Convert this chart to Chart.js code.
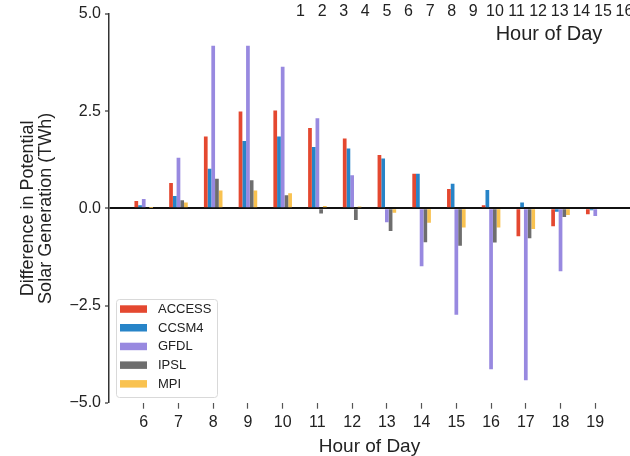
<!DOCTYPE html>
<html>
<head>
<meta charset="utf-8">
<script src="https://cdn.jsdelivr.net/npm/chart.js@4.4.0/dist/chart.umd.min.js"></script>
<style>
  html, body { margin: 0; padding: 0; background: #fff; }
  #wrap { width: 630px; height: 456px; }
</style>
</head>
<body>
<div id="wrap"><canvas id="solarChart"></canvas></div>
<script>
// Hour-of-day categories and model differences (TWh)
const hours = [6, 7, 8, 9, 10, 11, 12, 13, 14, 15, 16, 17, 18, 19];
const access = [0.19, 0.65, 1.85, 2.49, 2.52, 2.07, 1.80, 1.37, 0.89, 0.50, 0.08, -0.72, -0.46, -0.15];
const ccsm4 = [0.08, 0.32, 1.02, 1.73, 1.85, 1.58, 1.54, 1.28, 0.89, 0.63, 0.47, 0.15, -0.09, -0.05];
const gfdl = [0.24, 1.30, 4.18, 4.18, 3.64, 2.32, 0.85, -0.36, -1.49, -2.74, -4.14, -4.42, -1.62, -0.20];
const ipsl = [0.03, 0.21, 0.76, 0.72, 0.34, -0.13, -0.30, -0.58, -0.87, -0.96, -0.88, -0.77, -0.22, 0];
const mpi = [0.01, 0.15, 0.46, 0.46, 0.39, 0.06, 0.05, -0.11, -0.37, -0.49, -0.49, -0.53, -0.17, 0];
const yTicks = [-5, -2.5, 0, 2.5, 5];
// leftover tick labels of the panel above
const topHours = [1, 2, 3, 4, 5, 6, 7, 8, 9, 10, 11, 12, 13, 14, 15, 16];

const FONT = "'Liberation Sans', Arial, Helvetica, sans-serif";
const INK = "#222";

// Legend box + the stray text at the top
const overlayText = {
  id: "overlayText",
  afterDraw(chart) {
    const c = chart.ctx;
    c.save();

    // top strip from the neighbouring panel
    c.fillStyle = INK;
    c.font = `16px ${FONT}`;
    c.textAlign = "center";
    c.textBaseline = "middle";
    topHours.forEach((h, i) => c.fillText(String(h), 300.5 + i * 21.6, 12));
    c.font = `20px ${FONT}`;
    c.fillText("Hour of Day", 549, 34);

    // legend
    const x0 = 116, y0 = 299, w = 101, h = 98;
    c.fillStyle = "rgba(255,255,255,0.85)";
    c.strokeStyle = "#d9d9d9";
    c.lineWidth = 1;
    c.beginPath();
    c.roundRect(x0 + 0.5, y0 + 0.5, w, h, 3);
    c.fill();
    c.stroke();
    c.font = `13px ${FONT}`;
    c.textAlign = "left";
    chart.data.datasets.forEach((ds, i) => {
      const yc = y0 + 10 + i * 18.7;
      c.fillStyle = ds.backgroundColor;
      c.fillRect(x0 + 4, yc - 3.7, 27, 7.5);
      c.fillStyle = INK;
      c.fillText(ds.label, x0 + 42, yc + 0.5);
    });
    c.restore();
  },
};

const ctx = document.getElementById("solarChart").getContext("2d");
const chart = new Chart(ctx, {
  type: "bar",
  data: {
    labels: hours,
    datasets: [
      { label: "ACCESS", data: access, backgroundColor: "#e44830" },
      { label: "CCSM4", data: ccsm4, backgroundColor: "#2784c8" },
      { label: "GFDL", data: gfdl, backgroundColor: "#9889e0" },
      { label: "IPSL", data: ipsl, backgroundColor: "#6e6e6e" },
      { label: "MPI", data: mpi, backgroundColor: "#f9c250" },
    ],
  },
  options: {
    responsive: true,
    maintainAspectRatio: false,
    animation: false,
    layout: { padding: { top: 14, right: 0, bottom: 0, left: 0 } },
    datasets: {
      bar: { barPercentage: 1, categoryPercentage: 0.535 },
    },
    plugins: {
      legend: { display: false },
      tooltip: { enabled: false },
    },
    scales: {
      x: {
        type: "linear",
        min: 5,
        max: 20,
        offset: false,
        afterBuildTicks: (axis) => {
          axis.ticks = hours.map((h) => ({ value: h }));
        },
        afterFit: (axis) => {
          axis.height = 53.3;
        },
        border: { display: false },
        grid: {
          offset: false,
          drawOnChartArea: false,
          drawTicks: true,
          tickLength: 6,
          tickColor: "#555",
          tickWidth: 1.2,
        },
        ticks: {
          font: { size: 16, family: FONT },
          color: INK,
          padding: 4,
          maxRotation: 0,
          autoSkip: false,
          callback: (v) => String(v),
        },
        title: {
          display: true,
          text: "Hour of Day",
          color: INK,
          font: { size: 19, family: FONT, lineHeight: 1 },
          padding: { top: 0, bottom: 0 },
        },
      },
      y: {
        min: -5,
        max: 5,
        afterBuildTicks: (axis) => {
          axis.ticks = yTicks.map((v) => ({ value: v }));
        },
        afterFit: (axis) => {
          axis.width = 109;
        },
        border: { display: true, color: "#333", width: 1.5 },
        grid: {
          color: (c) => (c.tick && c.tick.value === 0 ? "#111" : "rgba(0,0,0,0)"),
          lineWidth: (c) => (c.tick && c.tick.value === 0 ? 2 : 0),
          tickColor: "#333",
          tickLength: 4,
          tickWidth: 1.2,
        },
        ticks: {
          font: { size: 16, family: FONT },
          color: INK,
          padding: 4,
          callback: (v) => v.toFixed(1).replace("-", "\u2212"),
        },
        title: {
          display: true,
          text: ["Difference in Potential", "Solar Generation (TWh)"],
          color: INK,
          font: { size: 18, family: FONT, lineHeight: 1.0 },
          padding: { top: 19, bottom: 0 },
        },
      },
    },
  },
  plugins: [overlayText],
});
</script>
</body>
</html>
